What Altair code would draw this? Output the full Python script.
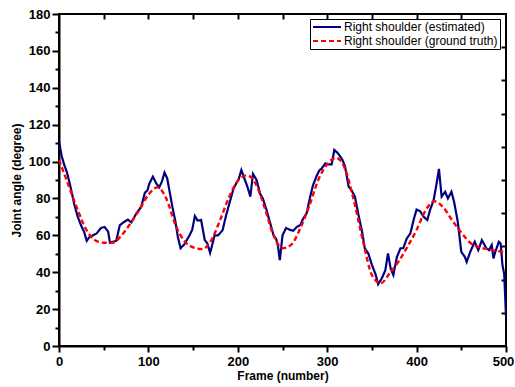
import altair as alt
import pandas as pd

series_names = ["Right shoulder (estimated)", "Right shoulder (ground truth)"]
series_colors = ["#000080", "#FF0000"]

est_frame = [0, 3, 6, 9, 13, 17, 21, 25, 28, 31, 34, 38, 42, 47, 51, 55, 57, 60, 64, 68,
             72, 77, 81, 86, 92, 96, 99, 101, 105, 109, 112, 115, 118, 121, 124, 127, 130, 133, 136, 140,
             143, 146, 149, 152, 155, 159, 163, 166, 169, 171, 174, 178, 183, 187, 191, 195, 198, 201, 204, 208,
             211, 214, 217, 221, 225, 228, 232, 236, 240, 243, 245, 247, 250, 254, 258, 262, 266, 270, 273, 277,
             281, 284, 288, 291, 294, 298, 301, 305, 308, 312, 317, 320, 324, 327, 331, 335, 339, 342, 346, 350,
             354, 357, 361, 365, 368, 371, 374, 378, 382, 385, 389, 393, 397, 400, 404, 408, 412, 415, 419, 422,
             425, 428, 432, 435, 439, 442, 446, 450, 454, 456, 460, 465, 469, 473, 478, 481, 484, 486, 488, 492,
             494, 496, 498, 500]
est_angle = [111, 103, 98, 94, 86, 77, 70, 65, 62, 57, 59, 60, 61, 64, 64.5, 62, 56, 56.5, 57, 65.5,
             67, 68.5, 67, 71.5, 75.5, 83, 84.5, 88, 91.8, 88, 86, 89, 94, 91, 83, 75, 68, 59, 53, 55,
             57.5, 60, 63, 70.5, 68, 68.3, 57.5, 55.6, 50.5, 54, 60, 60, 62.8, 71, 78, 85, 88, 90.5, 95.4, 90,
             86, 81, 93.3, 90, 82.5, 80, 74, 67, 60, 58, 54, 46.5, 60, 64, 63, 62.5, 64.6, 65.6, 69, 72,
             81, 87, 92, 95, 96.4, 99, 98.5, 98.5, 106.3, 104.5, 101, 97.2, 86.4, 84.6, 81, 71, 62, 53, 50.2, 44,
             39, 33.5, 36.6, 41, 50.2, 42, 38.5, 48.3, 53, 53, 58.3, 61, 69, 74, 73, 70, 68.3, 73.7, 79, 87,
             96, 81, 83.6, 80, 83.6, 78, 67.5, 51, 48.3, 45.6, 51, 56.5, 52, 57.4, 53, 52, 54.7, 47.5, 51, 56.5,
             55.6, 44, 39, 16]

gt_frame = [0, 10, 20, 30, 40, 50, 60, 70, 80, 90, 100, 110, 120, 130, 140, 150, 160, 170, 180, 190,
            200, 210, 220, 230, 240, 250, 260, 270, 280, 290, 300, 310, 320, 330, 340, 350, 360, 370, 380, 390,
            400, 410, 420, 430, 440, 450, 460, 470, 480, 490, 500]
gt_angle = [101, 88, 75, 63.5, 57.5, 56, 56, 60, 66.5, 74, 82, 86, 80, 66, 57, 53.5, 52.5, 57, 68, 80.5,
            89.5, 92.5, 88, 75, 60, 53, 55, 64, 76, 90, 98.5, 102, 96, 78.5, 57, 38.5, 34, 39.5, 46, 54,
            63, 73.5, 78.5, 75, 68, 61.5, 56, 53.5, 52.5, 51.5, 51]

x_ticks = [0, 50, 100, 150, 200, 250, 300, 350, 400, 450, 500]
y_ticks = [0, 10, 20, 30, 40, 50, 60, 70, 80, 90, 100, 110, 120, 130, 140, 150, 160, 170, 180]
top_ticks = [50, 100, 150, 200, 250, 300, 350, 400, 450]
right_ticks = [18, 36, 54, 72, 90, 108, 126, 144, 162]

est_df = pd.DataFrame({"frame": est_frame, "angle": est_angle, "series": series_names[0]})
gt_df = pd.DataFrame({"frame": gt_frame, "angle": gt_angle, "series": series_names[1]})

FONT = "Liberation Sans"

x_scale = alt.Scale(domain=[0, 500], nice=False, zero=False)
y_scale = alt.Scale(domain=[0, 180], nice=False, zero=False)

legend = alt.Legend(
    title=None, orient="none", legendX=251, legendY=5,
    fillColor="white", strokeColor="black", padding=2,
    labelFont=FONT, labelFontSize=12, labelColor="black",
    symbolType="M-1,0L4.6,0", symbolSize=100, symbolStrokeWidth=2,
    labelOffset=20, rowPadding=2,
)
color = alt.Color("series:N", scale=alt.Scale(domain=series_names, range=series_colors), legend=legend)
dash = alt.StrokeDash("series:N", scale=alt.Scale(domain=series_names, range=[[1, 0], [5, 3]]), legend=legend)

x_axis = alt.Axis(
    title="Frame (number)", values=x_ticks,
    labelExpr="datum.value % 100 === 0 ? datum.label : ''",
    tickSize={"condition": {"test": "datum.value % 100 === 0", "value": 6}, "value": 4},
    labelOffset={"condition": {"test": "datum.value === 500", "value": -3}, "value": 0},
    labelFont=FONT, labelFontSize=13, labelFontWeight="bold", labelColor="black",
    titleFont=FONT, titleFontSize=12, titleFontWeight="bold", titleColor="black",
    domainColor="black", domainWidth=2, tickColor="black", tickWidth=2,
    labelPadding=3, titlePadding=2, grid=False, labelFlush=False,
)
y_axis = alt.Axis(
    title="Joint angle (degree)", values=y_ticks,
    labelExpr="datum.value % 20 === 0 ? datum.label : ''",
    tickSize={"condition": {"test": "datum.value % 20 === 0", "value": 7}, "value": 4},
    labelFont=FONT, labelFontSize=13, labelFontWeight="bold", labelColor="black",
    titleFont=FONT, titleFontSize=12, titleFontWeight="bold", titleColor="black",
    domainColor="black", domainWidth=2, tickColor="black", tickWidth=2,
    labelPadding=2, titlePadding=5, grid=False, labelFlush=False,
)
top_axis = alt.Axis(
    orient="top", title=None, values=top_ticks, labels=False, domain=False,
    tickSize=5, offset=-5, tickColor="black", tickWidth=2, grid=False,
)
right_axis = alt.Axis(
    orient="right", title=None, values=right_ticks, labels=False, domain=False,
    tickSize=5, offset=-5, tickColor="black", tickWidth=2, grid=False,
)

est_line = alt.Chart(est_df).mark_line(strokeWidth=2.2, interpolate="linear", clip=True).encode(
    x=alt.X("frame:Q", scale=x_scale, axis=x_axis),
    y=alt.Y("angle:Q", scale=y_scale, axis=y_axis),
    color=color, strokeDash=dash,
)
gt_line = alt.Chart(gt_df).mark_line(strokeWidth=2.4, interpolate="monotone", clip=True).encode(
    x=alt.X("frame:Q", scale=x_scale, axis=top_axis),
    y=alt.Y("angle:Q", scale=y_scale, axis=right_axis),
    color=color, strokeDash=dash,
)

chart = alt.layer(est_line, gt_line).resolve_axis(x="independent", y="independent").properties(
    width=447, height=332,
    autosize=alt.AutoSizeParams(type="none"),
    padding={"left": 59, "top": 14, "right": 9, "bottom": 41},
    background="white",
).configure_view(stroke="black", strokeWidth=2)

chart.save("out.html", embed_options={"renderer": "svg", "actions": False})
